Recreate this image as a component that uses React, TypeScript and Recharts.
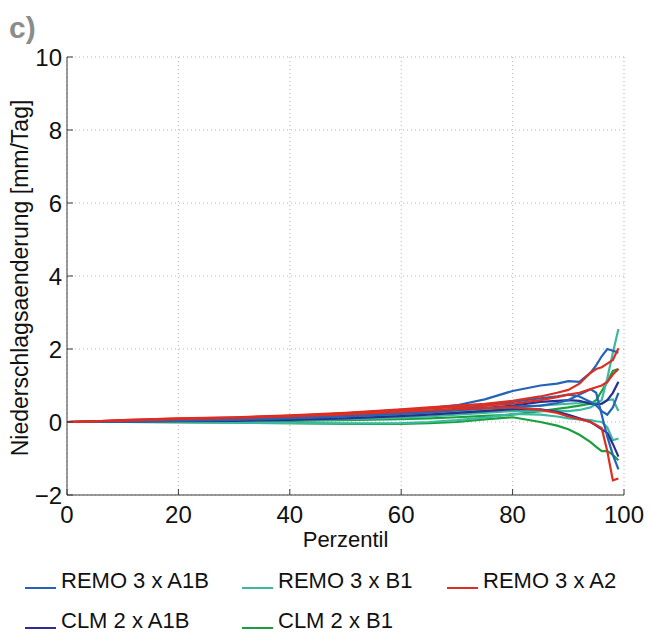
import React from 'react';
import { LineChart, Line, XAxis, YAxis, CartesianGrid } from 'recharts';

const percentiles = [0, 5, 10, 20, 30, 40, 50, 60, 65, 70, 75, 80, 85, 88, 90, 92, 94, 95, 96, 97, 98, 99];

const remoA1B_1 = [0, 0.01, 0.03, 0.06, 0.1, 0.15, 0.24, 0.32, 0.38, 0.46, 0.62, 0.85, 1.0, 1.05, 1.12, 1.1, 1.35, 1.55, 1.8, 2.0, 1.95, 1.9];
const remoA1B_2 = [0, 0.01, 0.02, 0.05, 0.08, 0.12, 0.18, 0.25, 0.3, 0.36, 0.45, 0.55, 0.65, 0.7, 0.75, 0.7, 0.55, 0.45, 0.3, 0.2, 0.4, 0.8];
const remoA1B_3 = [0, 0.0, 0.01, 0.03, 0.06, 0.1, 0.15, 0.22, 0.27, 0.33, 0.38, 0.42, 0.45, 0.52, 0.6, 0.75, 0.9, 0.8, 0.2, -0.4, -0.9, -1.3];

const remoB1_1 = [0, 0.0, 0.01, 0.02, 0.03, 0.05, 0.08, 0.12, 0.15, 0.2, 0.25, 0.3, 0.3, 0.3, 0.3, 0.33, 0.4, 0.5, 0.6, 1.2, 1.9, 2.55];
const remoB1_2 = [0, 0.01, 0.02, 0.04, 0.06, 0.1, 0.15, 0.2, 0.24, 0.28, 0.33, 0.38, 0.45, 0.48, 0.5, 0.52, 0.55, 0.52, 0.5, 0.6, 0.62, 0.3];
const remoB1_3 = [0, 0.0, 0.0, 0.0, -0.02, -0.03, -0.04, -0.03, 0.0, 0.05, 0.12, 0.22, 0.2, 0.15, 0.1, 0.07, 0.05, 0.02, 0.0, -0.15, -0.5, -0.45];

const remoA2_1 = [0, 0.02, 0.05, 0.1, 0.13, 0.18, 0.25, 0.35, 0.4, 0.45, 0.5, 0.58, 0.7, 0.8, 0.88, 1.05, 1.35, 1.45, 1.5, 1.6, 1.7, 2.02];
const remoA2_2 = [0, 0.02, 0.05, 0.09, 0.12, 0.17, 0.24, 0.33, 0.37, 0.41, 0.45, 0.5, 0.6, 0.68, 0.75, 0.8, 0.9, 0.95, 1.0, 1.1, 1.3, 1.45];
const remoA2_3 = [0, 0.02, 0.04, 0.08, 0.11, 0.15, 0.21, 0.28, 0.32, 0.35, 0.38, 0.4, 0.33, 0.25, 0.15, 0.08, 0.0, -0.08, -0.17, -0.8, -1.6, -1.55];

const clmA1B_1 = [0, 0.01, 0.02, 0.04, 0.07, 0.11, 0.17, 0.24, 0.28, 0.33, 0.38, 0.45, 0.55, 0.58, 0.6, 0.58, 0.5, 0.48, 0.5, 0.6, 0.8, 1.1];
const clmA1B_2 = [0, 0.0, 0.01, 0.02, 0.03, 0.06, 0.1, 0.16, 0.2, 0.25, 0.3, 0.35, 0.35, 0.28, 0.2, 0.1, 0.0, -0.1, -0.2, -0.3, -0.6, -0.95];

const clmB1_1 = [0, 0.0, 0.01, 0.02, 0.02, 0.03, 0.05, 0.08, 0.1, 0.13, 0.17, 0.2, 0.3, 0.36, 0.4, 0.45, 0.5, 0.6, 0.85, 1.1, 1.4, 1.45];
const clmB1_2 = [0, 0.0, 0.0, -0.01, -0.02, -0.03, -0.05, -0.05, -0.03, 0.0, 0.07, 0.13, 0.0, -0.1, -0.2, -0.35, -0.55, -0.68, -0.8, -0.8, -0.9, -1.05];

const xTicks = [0, 20, 40, 60, 80, 100];
const yTicks = [-2, 0, 2, 4, 6, 8, 10];

const groups = [
  { name: 'REMO 3 x A1B', color: '#2463b5' },
  { name: 'REMO 3 x B1', color: '#3cb8a0' },
  { name: 'REMO 3 x A2', color: '#dc2e22' },
  { name: 'CLM 2 x A1B', color: '#2b2e8e' },
  { name: 'CLM 2 x B1', color: '#17a03c' },
];

// drawing order: bottom first
const series = [
  { key: 'clmB1_1', group: 4, values: clmB1_1 },
  { key: 'clmB1_2', group: 4, values: clmB1_2 },
  { key: 'remoB1_1', group: 1, values: remoB1_1 },
  { key: 'remoB1_2', group: 1, values: remoB1_2 },
  { key: 'remoB1_3', group: 1, values: remoB1_3 },
  { key: 'clmA1B_1', group: 3, values: clmA1B_1 },
  { key: 'clmA1B_2', group: 3, values: clmA1B_2 },
  { key: 'remoA1B_1', group: 0, values: remoA1B_1 },
  { key: 'remoA1B_2', group: 0, values: remoA1B_2 },
  { key: 'remoA1B_3', group: 0, values: remoA1B_3 },
  { key: 'remoA2_1', group: 2, values: remoA2_1 },
  { key: 'remoA2_2', group: 2, values: remoA2_2 },
  { key: 'remoA2_3', group: 2, values: remoA2_3 },
];

const data = percentiles.map((p, i) => {
  const row: Record<string, number> = { p };
  series.forEach((s) => {
    row[s.key] = s.values[i];
  });
  return row;
});

const FONT = '"Liberation Sans", Arial, Helvetica, sans-serif';
const AXIS = '#3a3a3a';

const fmtY = (v: number) => (v < 0 ? '\u2212' + Math.abs(v) : String(v));

const legendRows = [
  [0, 1, 2],
  [3, 4],
];
const legendX = [25, 242, 447];

export default function App() {
  return (
    <div style={{ position: 'absolute', left: 0, top: 0, width: 650, height: 634, background: '#fff', fontFamily: FONT }}>
      <LineChart
        width={650}
        height={634}
        data={data}
        margin={{ top: 57, right: 26, bottom: 89, left: 0 }}
      >
        <CartesianGrid stroke="#b5b5b5" strokeDasharray="1 3" />
        <XAxis
          dataKey="p"
          type="number"
          domain={[0, 100]}
          ticks={xTicks}
          height={50}
          stroke={AXIS}
          tickSize={-6}
          tickMargin={17}
          tick={{ fill: '#111', fontSize: 24, fontFamily: FONT }}
          label={(props: any) => {
            const vb = props.viewBox || { x: 67, width: 557 };
            return (
              <text x={vb.x + vb.width / 2} y={547} textAnchor="middle" fontSize={22} fontFamily={FONT} fill="#111">
                Perzentil
              </text>
            );
          }}
        />
        <XAxis
          xAxisId="top"
          orientation="top"
          dataKey="p"
          type="number"
          domain={[0, 100]}
          ticks={xTicks}
          height={0}
          stroke={AXIS}
          tickSize={-6}
          tick={false}
        />
        <YAxis
          type="number"
          domain={[-2, 10]}
          ticks={yTicks}
          width={67}
          stroke={AXIS}
          tickSize={-6}
          tickMargin={11}
          tickFormatter={fmtY}
          tick={{ fill: '#111', fontSize: 24, fontFamily: FONT }}
          label={(props: any) => {
            const vb = props.viewBox || { y: 57, height: 438 };
            const cy = vb.y + vb.height / 2 + 2;
            return (
              <text
                x={20}
                y={cy}
                transform={`rotate(-90, 20, ${cy})`}
                textAnchor="middle"
                dominantBaseline="central"
                fontSize={23}
                fontFamily={FONT}
                fill="#111"
              >
                Niederschlagsaenderung [mm/Tag]
              </text>
            );
          }}
        />
        <YAxis
          yAxisId="right"
          orientation="right"
          type="number"
          domain={[-2, 10]}
          ticks={yTicks}
          width={0}
          stroke={AXIS}
          tickSize={-6}
          tick={false}
        />
        {series.map((s) => (
          <Line
            key={s.key}
            dataKey={s.key}
            type="linear"
            stroke={groups[s.group].color}
            strokeWidth={2.2}
            dot={false}
            isAnimationActive={false}
          />
        ))}
      </LineChart>
      <div style={{ position: 'absolute', left: 9, top: 11, fontSize: 30, fontWeight: 'bold', color: '#8c8c8c', fontFamily: FONT }}>c)</div>
      {legendRows.map((row, ri) =>
        row.map((gi, ci) => (
          <div
            key={groups[gi].name}
            style={{
              position: 'absolute',
              left: legendX[ci],
              top: 568 + ri * 40,
              display: 'flex',
              alignItems: 'center',
              fontSize: 22,
              color: '#111',
              fontFamily: FONT,
              whiteSpace: 'nowrap',
            }}
          >
            <span style={{ display: 'inline-block', width: 31, height: 0, borderTop: `2px solid ${groups[gi].color}`, marginTop: 14, marginRight: 5 }} />
            <span>{groups[gi].name}</span>
          </div>
        ))
      )}
    </div>
  );
}
